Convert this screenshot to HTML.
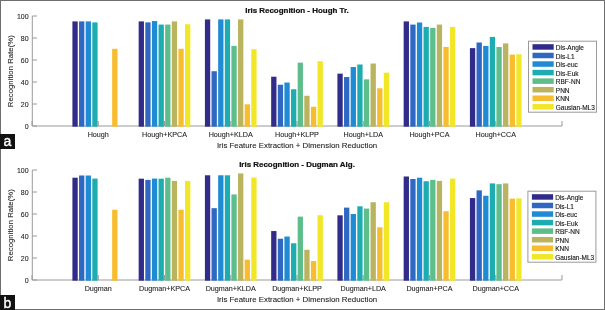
<!DOCTYPE html>
<html><head><meta charset="utf-8"><style>
html,body{margin:0;padding:0;background:#fff;}
body{width:605px;height:310px;overflow:hidden;}
svg{display:block;font-family:"Liberation Sans", sans-serif;filter:blur(0.35px);}
</style></head><body>
<svg width="605" height="310" viewBox="0 0 605 310">
<rect width="605" height="310" fill="#fff"/>
<path d="M32.3 16.0V126.0H562.0" fill="none" stroke="#9a9a9a" stroke-width="1"/>
<path d="M32.3 126.00h4.7" stroke="#9a9a9a" stroke-width="1"/>
<text x="28.6" y="128.50" text-anchor="end" font-size="7" fill="#222" stroke="#222" stroke-width="0.08">0</text>
<path d="M32.3 104.00h4.7" stroke="#9a9a9a" stroke-width="1"/>
<text x="28.6" y="106.50" text-anchor="end" font-size="7" fill="#222" stroke="#222" stroke-width="0.08">20</text>
<path d="M32.3 82.00h4.7" stroke="#9a9a9a" stroke-width="1"/>
<text x="28.6" y="84.50" text-anchor="end" font-size="7" fill="#222" stroke="#222" stroke-width="0.08">40</text>
<path d="M32.3 60.00h4.7" stroke="#9a9a9a" stroke-width="1"/>
<text x="28.6" y="62.50" text-anchor="end" font-size="7" fill="#222" stroke="#222" stroke-width="0.08">60</text>
<path d="M32.3 38.00h4.7" stroke="#9a9a9a" stroke-width="1"/>
<text x="28.6" y="40.50" text-anchor="end" font-size="7" fill="#222" stroke="#222" stroke-width="0.08">80</text>
<path d="M32.3 16.00h4.7" stroke="#9a9a9a" stroke-width="1"/>
<text x="28.6" y="18.50" text-anchor="end" font-size="7" fill="#222" stroke="#222" stroke-width="0.08">100</text>
<path d="M32.00 126.0v-5" stroke="#9a9a9a" stroke-width="1"/>
<path d="M98.25 126.0v-5" stroke="#9a9a9a" stroke-width="1"/>
<path d="M164.50 126.0v-5" stroke="#9a9a9a" stroke-width="1"/>
<path d="M230.75 126.0v-5" stroke="#9a9a9a" stroke-width="1"/>
<path d="M297.00 126.0v-5" stroke="#9a9a9a" stroke-width="1"/>
<path d="M363.25 126.0v-5" stroke="#9a9a9a" stroke-width="1"/>
<path d="M429.50 126.0v-5" stroke="#9a9a9a" stroke-width="1"/>
<path d="M495.75 126.0v-5" stroke="#9a9a9a" stroke-width="1"/>
<path d="M562.00 126.0v-5" stroke="#9a9a9a" stroke-width="1"/>
<text x="98.25" y="136.80" text-anchor="middle" font-size="7.2" fill="#222" stroke="#222" stroke-width="0.08">Hough</text>
<text x="164.50" y="136.80" text-anchor="middle" font-size="7.2" fill="#222" stroke="#222" stroke-width="0.08">Hough+KPCA</text>
<text x="230.75" y="136.80" text-anchor="middle" font-size="7.2" fill="#222" stroke="#222" stroke-width="0.08">Hough+KLDA</text>
<text x="297.00" y="136.80" text-anchor="middle" font-size="7.2" fill="#222" stroke="#222" stroke-width="0.08">Hough+KLPP</text>
<text x="363.25" y="136.80" text-anchor="middle" font-size="7.2" fill="#222" stroke="#222" stroke-width="0.08">Hough+LDA</text>
<text x="429.50" y="136.80" text-anchor="middle" font-size="7.2" fill="#222" stroke="#222" stroke-width="0.08">Hough+PCA</text>
<text x="495.75" y="136.80" text-anchor="middle" font-size="7.2" fill="#222" stroke="#222" stroke-width="0.08">Hough+CCA</text>
<text x="297" y="147.80" text-anchor="middle" font-size="7.85" fill="#222" stroke="#222" stroke-width="0.08">Iris Feature Extraction + Dimension Reduction</text>
<text transform="translate(12.7 71.2) rotate(-90)" text-anchor="middle" font-size="7.8" fill="#222" stroke="#222" stroke-width="0.08">Recognition Rate(%)</text>
<text x="297" y="13.00" text-anchor="middle" font-size="7.95" font-weight="bold" fill="#111" stroke="#111" stroke-width="0.22">Iris Recognition - Hough Tr.</text>
<rect x="72.41" y="21.39" width="5.3" height="105.31" fill="#312C89"/>
<rect x="79.04" y="21.39" width="5.3" height="105.31" fill="#2E68C2"/>
<rect x="85.66" y="21.39" width="5.3" height="105.31" fill="#1E8BD4"/>
<rect x="92.29" y="22.38" width="5.3" height="104.32" fill="#1DADB1"/>
<rect x="112.16" y="48.78" width="5.3" height="77.92" fill="#F8BD2E"/>
<rect x="138.66" y="21.39" width="5.3" height="105.31" fill="#312C89"/>
<rect x="145.29" y="22.38" width="5.3" height="104.32" fill="#2E68C2"/>
<rect x="151.91" y="21.06" width="5.3" height="105.64" fill="#1E8BD4"/>
<rect x="158.54" y="24.58" width="5.3" height="102.12" fill="#1DADB1"/>
<rect x="165.16" y="24.58" width="5.3" height="102.12" fill="#5DBE8C"/>
<rect x="171.79" y="21.39" width="5.3" height="105.31" fill="#BAB45F"/>
<rect x="178.41" y="48.78" width="5.3" height="77.92" fill="#F8BD2E"/>
<rect x="185.04" y="24.25" width="5.3" height="102.45" fill="#F2E727"/>
<rect x="204.91" y="19.41" width="5.3" height="107.29" fill="#312C89"/>
<rect x="211.54" y="71.22" width="5.3" height="55.48" fill="#2E68C2"/>
<rect x="218.16" y="19.41" width="5.3" height="107.29" fill="#1E8BD4"/>
<rect x="224.79" y="19.41" width="5.3" height="107.29" fill="#1DADB1"/>
<rect x="231.41" y="45.92" width="5.3" height="80.78" fill="#5DBE8C"/>
<rect x="238.04" y="19.41" width="5.3" height="107.29" fill="#BAB45F"/>
<rect x="244.66" y="104.33" width="5.3" height="22.37" fill="#F8BD2E"/>
<rect x="251.29" y="49.22" width="5.3" height="77.48" fill="#F2E727"/>
<rect x="271.16" y="76.72" width="5.3" height="49.98" fill="#312C89"/>
<rect x="277.79" y="84.75" width="5.3" height="41.95" fill="#2E68C2"/>
<rect x="284.41" y="82.55" width="5.3" height="44.15" fill="#1E8BD4"/>
<rect x="291.04" y="89.26" width="5.3" height="37.44" fill="#1DADB1"/>
<rect x="297.66" y="62.64" width="5.3" height="64.06" fill="#5DBE8C"/>
<rect x="304.29" y="95.75" width="5.3" height="30.95" fill="#BAB45F"/>
<rect x="310.91" y="106.75" width="5.3" height="19.95" fill="#F8BD2E"/>
<rect x="317.54" y="61.21" width="5.3" height="65.49" fill="#F2E727"/>
<rect x="337.41" y="73.64" width="5.3" height="53.06" fill="#312C89"/>
<rect x="344.04" y="77.05" width="5.3" height="49.65" fill="#2E68C2"/>
<rect x="350.66" y="67.04" width="5.3" height="59.66" fill="#1E8BD4"/>
<rect x="357.29" y="64.51" width="5.3" height="62.19" fill="#1DADB1"/>
<rect x="363.91" y="79.36" width="5.3" height="47.34" fill="#5DBE8C"/>
<rect x="370.54" y="63.52" width="5.3" height="63.18" fill="#BAB45F"/>
<rect x="377.16" y="88.27" width="5.3" height="38.43" fill="#F8BD2E"/>
<rect x="383.79" y="72.65" width="5.3" height="54.05" fill="#F2E727"/>
<rect x="403.66" y="21.39" width="5.3" height="105.31" fill="#312C89"/>
<rect x="410.29" y="24.58" width="5.3" height="102.12" fill="#2E68C2"/>
<rect x="416.91" y="22.49" width="5.3" height="104.21" fill="#1E8BD4"/>
<rect x="423.54" y="26.89" width="5.3" height="99.81" fill="#1DADB1"/>
<rect x="430.16" y="27.88" width="5.3" height="98.82" fill="#5DBE8C"/>
<rect x="436.79" y="24.58" width="5.3" height="102.12" fill="#BAB45F"/>
<rect x="443.41" y="46.91" width="5.3" height="79.79" fill="#F8BD2E"/>
<rect x="450.04" y="26.89" width="5.3" height="99.81" fill="#F2E727"/>
<rect x="469.91" y="48.12" width="5.3" height="78.58" fill="#312C89"/>
<rect x="476.54" y="42.51" width="5.3" height="84.19" fill="#2E68C2"/>
<rect x="483.16" y="45.92" width="5.3" height="80.78" fill="#1E8BD4"/>
<rect x="489.79" y="36.90" width="5.3" height="89.80" fill="#1DADB1"/>
<rect x="496.41" y="47.02" width="5.3" height="79.68" fill="#5DBE8C"/>
<rect x="503.04" y="43.39" width="5.3" height="83.31" fill="#BAB45F"/>
<rect x="509.66" y="54.61" width="5.3" height="72.09" fill="#F8BD2E"/>
<rect x="516.29" y="54.28" width="5.3" height="72.42" fill="#F2E727"/>
<rect x="528.5" y="41.2" width="68" height="71" fill="#fff" stroke="#9a9a9a" stroke-width="1"/>
<rect x="532.5" y="44.20" width="21.2" height="5.5" fill="#312C89"/>
<text x="555.8" y="50.10" font-size="6.5" fill="#151515" stroke="#151515" stroke-width="0.12">Dis-Angle</text>
<rect x="532.5" y="52.75" width="21.2" height="5.5" fill="#2E68C2"/>
<text x="555.8" y="58.65" font-size="6.5" fill="#151515" stroke="#151515" stroke-width="0.12">Dis-L1</text>
<rect x="532.5" y="61.30" width="21.2" height="5.5" fill="#1E8BD4"/>
<text x="555.8" y="67.20" font-size="6.5" fill="#151515" stroke="#151515" stroke-width="0.12">Dis-euc</text>
<rect x="532.5" y="69.85" width="21.2" height="5.5" fill="#1DADB1"/>
<text x="555.8" y="75.75" font-size="6.5" fill="#151515" stroke="#151515" stroke-width="0.12">Dis-Euk</text>
<rect x="532.5" y="78.40" width="21.2" height="5.5" fill="#5DBE8C"/>
<text x="555.8" y="84.30" font-size="6.5" fill="#151515" stroke="#151515" stroke-width="0.12">RBF-NN</text>
<rect x="532.5" y="86.95" width="21.2" height="5.5" fill="#BAB45F"/>
<text x="555.8" y="92.85" font-size="6.5" fill="#151515" stroke="#151515" stroke-width="0.12">PNN</text>
<rect x="532.5" y="95.50" width="21.2" height="5.5" fill="#F8BD2E"/>
<text x="555.8" y="101.40" font-size="6.5" fill="#151515" stroke="#151515" stroke-width="0.12">KNN</text>
<rect x="532.5" y="104.05" width="21.2" height="5.5" fill="#F2E727"/>
<text x="555.8" y="109.95" font-size="6.5" fill="#151515" stroke="#151515" stroke-width="0.12">Gausian-ML3</text>
<path d="M32.3 170.0V280.0H562.0" fill="none" stroke="#9a9a9a" stroke-width="1"/>
<path d="M32.3 280.00h4.7" stroke="#9a9a9a" stroke-width="1"/>
<text x="28.6" y="282.50" text-anchor="end" font-size="7" fill="#222" stroke="#222" stroke-width="0.08">0</text>
<path d="M32.3 258.00h4.7" stroke="#9a9a9a" stroke-width="1"/>
<text x="28.6" y="260.50" text-anchor="end" font-size="7" fill="#222" stroke="#222" stroke-width="0.08">20</text>
<path d="M32.3 236.00h4.7" stroke="#9a9a9a" stroke-width="1"/>
<text x="28.6" y="238.50" text-anchor="end" font-size="7" fill="#222" stroke="#222" stroke-width="0.08">40</text>
<path d="M32.3 214.00h4.7" stroke="#9a9a9a" stroke-width="1"/>
<text x="28.6" y="216.50" text-anchor="end" font-size="7" fill="#222" stroke="#222" stroke-width="0.08">60</text>
<path d="M32.3 192.00h4.7" stroke="#9a9a9a" stroke-width="1"/>
<text x="28.6" y="194.50" text-anchor="end" font-size="7" fill="#222" stroke="#222" stroke-width="0.08">80</text>
<path d="M32.3 170.00h4.7" stroke="#9a9a9a" stroke-width="1"/>
<text x="28.6" y="172.50" text-anchor="end" font-size="7" fill="#222" stroke="#222" stroke-width="0.08">100</text>
<path d="M32.00 280.0v-5" stroke="#9a9a9a" stroke-width="1"/>
<path d="M98.25 280.0v-5" stroke="#9a9a9a" stroke-width="1"/>
<path d="M164.50 280.0v-5" stroke="#9a9a9a" stroke-width="1"/>
<path d="M230.75 280.0v-5" stroke="#9a9a9a" stroke-width="1"/>
<path d="M297.00 280.0v-5" stroke="#9a9a9a" stroke-width="1"/>
<path d="M363.25 280.0v-5" stroke="#9a9a9a" stroke-width="1"/>
<path d="M429.50 280.0v-5" stroke="#9a9a9a" stroke-width="1"/>
<path d="M495.75 280.0v-5" stroke="#9a9a9a" stroke-width="1"/>
<path d="M562.00 280.0v-5" stroke="#9a9a9a" stroke-width="1"/>
<text x="98.25" y="290.80" text-anchor="middle" font-size="7.2" fill="#222" stroke="#222" stroke-width="0.08">Dugman</text>
<text x="164.50" y="290.80" text-anchor="middle" font-size="7.2" fill="#222" stroke="#222" stroke-width="0.08">Dugman+KPCA</text>
<text x="230.75" y="290.80" text-anchor="middle" font-size="7.2" fill="#222" stroke="#222" stroke-width="0.08">Dugman+KLDA</text>
<text x="297.00" y="290.80" text-anchor="middle" font-size="7.2" fill="#222" stroke="#222" stroke-width="0.08">Dugman+KLPP</text>
<text x="363.25" y="290.80" text-anchor="middle" font-size="7.2" fill="#222" stroke="#222" stroke-width="0.08">Dugman+LDA</text>
<text x="429.50" y="290.80" text-anchor="middle" font-size="7.2" fill="#222" stroke="#222" stroke-width="0.08">Dugman+PCA</text>
<text x="495.75" y="290.80" text-anchor="middle" font-size="7.2" fill="#222" stroke="#222" stroke-width="0.08">Dugman+CCA</text>
<text x="297" y="301.80" text-anchor="middle" font-size="7.85" fill="#222" stroke="#222" stroke-width="0.08">Iris Feature Extraction + Dimension Reduction</text>
<text transform="translate(12.7 225.2) rotate(-90)" text-anchor="middle" font-size="7.8" fill="#222" stroke="#222" stroke-width="0.08">Recognition Rate(%)</text>
<text x="297" y="167.00" text-anchor="middle" font-size="7.95" font-weight="bold" fill="#111" stroke="#111" stroke-width="0.22">Iris Recognition - Dugman Alg.</text>
<rect x="72.41" y="177.70" width="5.3" height="103.00" fill="#312C89"/>
<rect x="79.04" y="175.50" width="5.3" height="105.20" fill="#2E68C2"/>
<rect x="85.66" y="175.50" width="5.3" height="105.20" fill="#1E8BD4"/>
<rect x="92.29" y="178.58" width="5.3" height="102.12" fill="#1DADB1"/>
<rect x="112.16" y="209.71" width="5.3" height="70.99" fill="#F8BD2E"/>
<rect x="138.66" y="178.69" width="5.3" height="102.01" fill="#312C89"/>
<rect x="145.29" y="179.90" width="5.3" height="100.80" fill="#2E68C2"/>
<rect x="151.91" y="178.58" width="5.3" height="102.12" fill="#1E8BD4"/>
<rect x="158.54" y="178.69" width="5.3" height="102.01" fill="#1DADB1"/>
<rect x="165.16" y="177.70" width="5.3" height="103.00" fill="#5DBE8C"/>
<rect x="171.79" y="180.89" width="5.3" height="99.81" fill="#BAB45F"/>
<rect x="178.41" y="209.71" width="5.3" height="70.99" fill="#F8BD2E"/>
<rect x="185.04" y="180.89" width="5.3" height="99.81" fill="#F2E727"/>
<rect x="204.91" y="175.28" width="5.3" height="105.42" fill="#312C89"/>
<rect x="211.54" y="208.17" width="5.3" height="72.53" fill="#2E68C2"/>
<rect x="218.16" y="175.28" width="5.3" height="105.42" fill="#1E8BD4"/>
<rect x="224.79" y="175.28" width="5.3" height="105.42" fill="#1DADB1"/>
<rect x="231.41" y="194.42" width="5.3" height="86.28" fill="#5DBE8C"/>
<rect x="238.04" y="173.41" width="5.3" height="107.29" fill="#BAB45F"/>
<rect x="244.66" y="259.65" width="5.3" height="21.05" fill="#F8BD2E"/>
<rect x="251.29" y="177.59" width="5.3" height="103.11" fill="#F2E727"/>
<rect x="271.16" y="231.05" width="5.3" height="49.65" fill="#312C89"/>
<rect x="277.79" y="238.75" width="5.3" height="41.95" fill="#2E68C2"/>
<rect x="284.41" y="236.55" width="5.3" height="44.15" fill="#1E8BD4"/>
<rect x="291.04" y="243.26" width="5.3" height="37.44" fill="#1DADB1"/>
<rect x="297.66" y="216.64" width="5.3" height="64.06" fill="#5DBE8C"/>
<rect x="304.29" y="249.75" width="5.3" height="30.95" fill="#BAB45F"/>
<rect x="310.91" y="261.08" width="5.3" height="19.62" fill="#F8BD2E"/>
<rect x="317.54" y="215.21" width="5.3" height="65.49" fill="#F2E727"/>
<rect x="337.41" y="215.32" width="5.3" height="65.38" fill="#312C89"/>
<rect x="344.04" y="207.62" width="5.3" height="73.08" fill="#2E68C2"/>
<rect x="350.66" y="214.00" width="5.3" height="66.70" fill="#1E8BD4"/>
<rect x="357.29" y="206.30" width="5.3" height="74.40" fill="#1DADB1"/>
<rect x="363.91" y="208.61" width="5.3" height="72.09" fill="#5DBE8C"/>
<rect x="370.54" y="202.23" width="5.3" height="78.47" fill="#BAB45F"/>
<rect x="377.16" y="227.31" width="5.3" height="53.39" fill="#F8BD2E"/>
<rect x="383.79" y="202.23" width="5.3" height="78.47" fill="#F2E727"/>
<rect x="403.66" y="176.49" width="5.3" height="104.21" fill="#312C89"/>
<rect x="410.29" y="179.02" width="5.3" height="101.68" fill="#2E68C2"/>
<rect x="416.91" y="177.70" width="5.3" height="103.00" fill="#1E8BD4"/>
<rect x="423.54" y="181.22" width="5.3" height="99.48" fill="#1DADB1"/>
<rect x="430.16" y="179.90" width="5.3" height="100.80" fill="#5DBE8C"/>
<rect x="436.79" y="180.89" width="5.3" height="99.81" fill="#BAB45F"/>
<rect x="443.41" y="211.25" width="5.3" height="69.45" fill="#F8BD2E"/>
<rect x="450.04" y="178.58" width="5.3" height="102.12" fill="#F2E727"/>
<rect x="469.91" y="198.05" width="5.3" height="82.65" fill="#312C89"/>
<rect x="476.54" y="190.35" width="5.3" height="90.35" fill="#2E68C2"/>
<rect x="483.16" y="195.74" width="5.3" height="84.96" fill="#1E8BD4"/>
<rect x="489.79" y="183.42" width="5.3" height="97.28" fill="#1DADB1"/>
<rect x="496.41" y="184.19" width="5.3" height="96.51" fill="#5DBE8C"/>
<rect x="503.04" y="183.42" width="5.3" height="97.28" fill="#BAB45F"/>
<rect x="509.66" y="198.60" width="5.3" height="82.10" fill="#F8BD2E"/>
<rect x="516.29" y="198.38" width="5.3" height="82.32" fill="#F2E727"/>
<rect x="527.9" y="191.2" width="68" height="71" fill="#fff" stroke="#9a9a9a" stroke-width="1"/>
<rect x="531.9" y="194.20" width="21.2" height="5.5" fill="#312C89"/>
<text x="555.1999999999999" y="200.10" font-size="6.5" fill="#151515" stroke="#151515" stroke-width="0.12">Dis-Angle</text>
<rect x="531.9" y="202.75" width="21.2" height="5.5" fill="#2E68C2"/>
<text x="555.1999999999999" y="208.65" font-size="6.5" fill="#151515" stroke="#151515" stroke-width="0.12">Dis-L1</text>
<rect x="531.9" y="211.30" width="21.2" height="5.5" fill="#1E8BD4"/>
<text x="555.1999999999999" y="217.20" font-size="6.5" fill="#151515" stroke="#151515" stroke-width="0.12">Dis-euc</text>
<rect x="531.9" y="219.85" width="21.2" height="5.5" fill="#1DADB1"/>
<text x="555.1999999999999" y="225.75" font-size="6.5" fill="#151515" stroke="#151515" stroke-width="0.12">Dis-Euk</text>
<rect x="531.9" y="228.40" width="21.2" height="5.5" fill="#5DBE8C"/>
<text x="555.1999999999999" y="234.30" font-size="6.5" fill="#151515" stroke="#151515" stroke-width="0.12">RBF-NN</text>
<rect x="531.9" y="236.95" width="21.2" height="5.5" fill="#BAB45F"/>
<text x="555.1999999999999" y="242.85" font-size="6.5" fill="#151515" stroke="#151515" stroke-width="0.12">PNN</text>
<rect x="531.9" y="245.50" width="21.2" height="5.5" fill="#F8BD2E"/>
<text x="555.1999999999999" y="251.40" font-size="6.5" fill="#151515" stroke="#151515" stroke-width="0.12">KNN</text>
<rect x="531.9" y="254.05" width="21.2" height="5.5" fill="#F2E727"/>
<text x="555.1999999999999" y="259.95" font-size="6.5" fill="#151515" stroke="#151515" stroke-width="0.12">Gausian-ML3</text>
<rect x="0.5" y="0.5" width="604" height="309" fill="none" stroke="#6e6e6e" stroke-width="1"/>
<rect x="0" y="134" width="15" height="15" fill="#111"/>
<text x="7.5" y="145.5" text-anchor="middle" font-size="14" fill="#fff" stroke="#fff" stroke-width="0.35">a</text>
<rect x="0" y="295" width="15" height="15" fill="#111"/>
<text x="7.5" y="307.6" text-anchor="middle" font-size="14" fill="#fff" stroke="#fff" stroke-width="0.35">b</text>
</svg>
</body></html>
